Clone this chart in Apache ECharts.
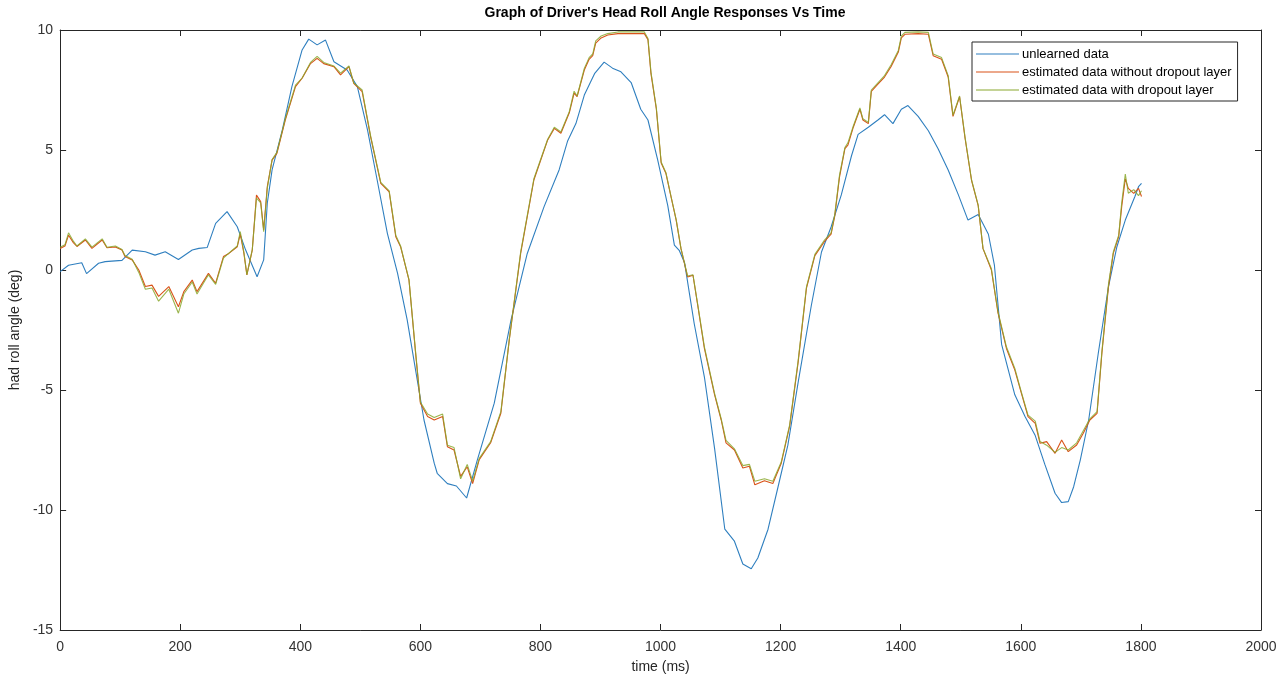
<!DOCTYPE html>
<html>
<head>
<meta charset="utf-8">
<script src="https://cdn.jsdelivr.net/npm/echarts@6/dist/echarts.min.js"></script>
<style>
  html, body { margin: 0; padding: 0; background: #fff; }
  #chart { width: 1287px; height: 682px; }
</style>
</head>
<body>
<div id="chart"></div>
<script>
const blueTime = [0, 14, 36, 44, 64, 75, 103, 120, 142, 158, 175, 197, 220, 231, 245, 259, 278, 295, 309, 328,
  339, 345, 353, 370, 386, 403, 414, 428, 442, 456, 478, 495, 512, 528, 545, 562, 578, 592, 606, 623,
  628, 645, 660, 677, 695, 723, 751, 778, 806, 831, 845, 859, 873, 890, 906, 920, 934, 951, 967, 979,
  995, 1012, 1023, 1031, 1040, 1056, 1073, 1090, 1107, 1123, 1137, 1151, 1162, 1179, 1196, 1212, 1229, 1251, 1268, 1284,
  1301, 1318, 1329, 1346, 1362, 1373, 1387, 1401, 1412, 1429, 1446, 1462, 1479, 1496, 1512, 1529, 1546, 1556, 1568, 1590,
  1607, 1624, 1640, 1657, 1668, 1679, 1688, 1699, 1713, 1729, 1746, 1760, 1774, 1782, 1790, 1796, 1801]
const blueRoll = [-0.07, 0.2, 0.3, -0.15, 0.28, 0.35, 0.4, 0.83, 0.76, 0.62, 0.76, 0.44, 0.83, 0.9, 0.94, 1.94, 2.43, 1.8, 0.83, -0.28,
  0.42, 2.78, 4.17, 5.83, 7.64, 9.17, 9.62, 9.38, 9.58, 8.68, 8.33, 7.64, 5.83, 3.75, 1.53, -0.14, -2.08, -4.17, -6.25, -8.05,
  -8.47, -8.9, -9.0, -9.5, -7.9, -5.55, -2.08, 0.69, 2.64, 4.17, 5.36, 6.1, 7.29, 8.18, 8.66, 8.41, 8.26, 7.81, 6.7, 6.25,
  4.61, 2.68, 1.04, 0.82, 0.3, -2.23, -4.46, -7.44, -10.8, -11.3, -12.25, -12.45, -12.0, -10.8, -9.0, -7.3, -4.7, -1.49, 0.75, 1.79,
  3.13, 4.76, 5.65, 5.95, 6.25, 6.47, 6.1, 6.7, 6.85, 6.4, 5.8, 5.06, 4.17, 3.13, 2.08, 2.31, 1.49, 0.2, -3.1, -5.2,
  -6.1, -6.9, -8.1, -9.3, -9.69, -9.65, -9.03, -7.92, -6.25, -3.47, -0.69, 0.97, 2.08, 2.57, 3.06, 3.47, 3.61]

// estimated series share one time base
const estTime = [0, 8, 14, 22, 28, 42, 53, 70, 78, 92, 103, 108, 120, 131, 142, 153, 164, 181, 197, 206,
  220, 228, 247, 259, 272, 281, 295, 300, 306, 311, 320, 327, 334, 339, 345, 353, 361, 375, 392, 403,
  417, 428, 439, 456, 467, 481, 489, 503, 517, 534, 548, 559, 567, 581, 592, 600, 612, 623, 637, 645,
  656, 667, 678, 687, 698, 717, 734, 748, 767, 789, 812, 823, 834, 848, 856, 861, 873, 881, 887, 892,
  901, 912, 929, 973, 979, 984, 993, 1001, 1009, 1018, 1026, 1034, 1045, 1054, 1062, 1073, 1090, 1101, 1109, 1123,
  1137, 1148, 1157, 1173, 1187, 1201, 1215, 1229, 1243, 1257, 1273, 1284, 1290, 1298, 1307, 1312, 1321, 1332, 1337, 1346,
  1351, 1362, 1373, 1384, 1396, 1401, 1407, 1429, 1446, 1454, 1468, 1479, 1487, 1498, 1507, 1518, 1529, 1537, 1551, 1562,
  1576, 1590, 1601, 1612, 1624, 1632, 1643, 1657, 1668, 1679, 1693, 1704, 1715, 1727, 1735, 1746, 1754, 1763, 1768, 1774,
  1779, 1788, 1796, 1801]
const noDropoutRoll = [0.9, 1.0, 1.45, 1.14, 0.98, 1.25, 0.9, 1.25, 0.93, 0.96, 0.83, 0.56, 0.42, 0.0, -0.69, -0.63, -1.1, -0.69, -1.53, -0.9,
  -0.42, -0.9, -0.14, -0.55, 0.56, 0.69, 0.97, 1.5, 0.7, -0.2, 0.83, 3.12, 2.85, 1.67, 3.47, 4.58, 4.86, 6.25, 7.64, 7.99,
  8.6, 8.82, 8.6, 8.47, 8.13, 8.47, 7.78, 7.43, 5.56, 3.61, 3.26, 1.39, 0.97, -0.42, -3.47, -5.55, -6.1, -6.25, -6.1, -7.36,
  -7.5, -8.6, -8.2, -8.9, -7.9, -7.2, -5.97, -2.92, 0.69, 3.75, 5.42, 5.9, 5.7, 6.55, 7.37, 7.22, 8.33, 8.78, 8.93, 9.45,
  9.67, 9.79, 9.85, 9.85, 9.6, 8.18, 6.7, 4.46, 4.02, 2.98, 2.08, 0.89, -0.29, -0.22, -1.49, -3.27, -5.2, -6.25, -7.2, -7.5,
  -8.25, -8.18, -8.95, -8.78, -8.9, -8.05, -6.5, -3.87, -0.75, 0.6, 1.19, 1.49, 2.23, 3.87, 5.06, 5.2, 5.95, 6.7, 6.25, 6.1,
  7.44, 7.74, 8.04, 8.48, 9.08, 9.67, 9.82, 9.85, 9.82, 8.93, 8.78, 8.04, 6.4, 7.22, 5.51, 3.72, 2.68, 0.89, 0.0, -1.79,
  -3.27, -4.17, -5.14, -6.11, -6.39, -7.22, -7.15, -7.64, -7.08, -7.57, -7.29, -6.8, -6.25, -5.97, -3.47, -0.69, 0.69, 1.39, 2.64, 3.8,
  3.4, 3.19, 3.4, 3.06]
const dropoutRoll = [0.95, 1.05, 1.55, 1.2, 1.0, 1.3, 0.95, 1.3, 0.95, 1.0, 0.85, 0.6, 0.45, -0.1, -0.8, -0.75, -1.3, -0.8, -1.8, -1.0,
  -0.5, -1.0, -0.2, -0.6, 0.5, 0.7, 1.0, 1.6, 0.75, -0.2, 0.85, 3.0, 2.8, 1.6, 3.4, 4.6, 4.9, 6.3, 7.7, 8.0,
  8.65, 8.9, 8.65, 8.5, 8.2, 8.5, 7.8, 7.5, 5.6, 3.65, 3.3, 1.45, 1.0, -0.4, -3.4, -5.5, -6.0, -6.15, -6.0, -7.3,
  -7.4, -8.7, -8.1, -8.8, -7.85, -7.15, -5.9, -2.9, 0.75, 3.8, 5.45, 5.95, 5.75, 6.6, 7.45, 7.25, 8.4, 8.85, 9.0, 9.55,
  9.75, 9.85, 9.92, 9.92, 9.65, 8.25, 6.75, 4.5, 4.05, 3.0, 2.1, 0.9, -0.25, -0.2, -1.45, -3.2, -5.15, -6.2, -7.1, -7.45,
  -8.15, -8.1, -8.8, -8.7, -8.8, -8.0, -6.45, -3.8, -0.7, 0.65, 1.25, 1.55, 2.3, 3.95, 5.1, 5.3, 6.0, 6.75, 6.3, 6.15,
  7.5, 7.8, 8.1, 8.55, 9.15, 9.75, 9.9, 9.92, 9.9, 9.0, 8.85, 8.1, 6.45, 7.25, 5.55, 3.75, 2.7, 0.9, 0.05, -1.75,
  -3.2, -4.1, -5.1, -6.05, -6.3, -7.15, -7.3, -7.6, -7.4, -7.5, -7.2, -6.7, -6.2, -5.9, -3.4, -0.6, 0.75, 1.45, 2.8, 4.0,
  3.2, 3.35, 3.1, 3.3]

const xTicks = { min: 0, max: 2000, interval: 200 }
const yTicks = { min: -15, max: 10, interval: 5 }

const pairs = (xs, ys) => xs.map((x, i) => [x, ys[i]])

const font = 'Liberation Sans, Arial, Helvetica, sans-serif'
const ink = '#262626'
// thin line legend key (the extra move-tos keep the box 43x14 so the bar stays 1px)
const lineKey = 'path://M0,0M43,14M0,6.5L43,6.5L43,7.6L0,7.6Z'

const chart = echarts.init(document.getElementById('chart'), null, { renderer: 'canvas' })

const boxAxis = {
  axisLine: { show: true, onZero: false, lineStyle: { color: ink, width: 1 } },
  axisTick: { show: true, inside: true, length: 6, lineStyle: { color: ink } },
  splitLine: { show: false }
}

const option = {
  backgroundColor: '#fff',
  animation: false,
  title: {
    text: "Graph of Driver's Head Roll Angle Responses Vs Time",
    left: 660,
    top: 1,
    textAlign: 'center',
    textStyle: { fontFamily: font, fontSize: 14, fontWeight: 'bold', color: '#000' }
  },
  legend: {
    orient: 'vertical',
    left: 972,
    top: 42,
    padding: [5, 6, 4, 4],
    itemWidth: 43,
    itemHeight: 14,
    itemGap: 4,
    icon: lineKey,
    backgroundColor: '#fff',
    borderColor: ink,
    borderWidth: 1,
    borderRadius: 0,
    textStyle: { fontFamily: font, fontSize: 13, color: '#000', padding: [0, 0, 0, -2] },
    data: ['unlearned data', 'estimated data without dropout layer', 'estimated data with dropout layer']
  },
  grid: { left: 60, right: 26, top: 30, bottom: 52, containLabel: false },
  xAxis: [
    {
      type: 'value', ...xTicks, position: 'bottom', ...boxAxis,
      name: 'time (ms)', nameLocation: 'middle', nameGap: 30,
      nameTextStyle: { fontFamily: font, fontSize: 14, color: ink },
      axisLabel: { margin: 10, fontFamily: font, fontSize: 14, color: '#333', formatter: v => String(v) }
    },
    { type: 'value', ...xTicks, position: 'top', ...boxAxis, axisLabel: { show: false } }
  ],
  yAxis: [
    {
      type: 'value', ...yTicks, position: 'left', ...boxAxis,
      name: 'had roll angle (deg)', nameLocation: 'middle', nameGap: 33, nameRotate: 90,
      nameTextStyle: { fontFamily: font, fontSize: 14, color: ink },
      axisLabel: { margin: 7, fontFamily: font, fontSize: 14, color: '#333', formatter: v => String(v) }
    },
    { type: 'value', ...yTicks, position: 'right', ...boxAxis, axisLabel: { show: false } }
  ],
  series: [
    {
      name: 'unlearned data', type: 'line', data: pairs(blueTime, blueRoll),
      symbol: 'none', smooth: false,
      lineStyle: { width: 1.1, color: '#2f7fbf' }, itemStyle: { color: '#2f7fbf' }
    },
    {
      name: 'estimated data without dropout layer', type: 'line', data: pairs(estTime, noDropoutRoll),
      symbol: 'none',
      lineStyle: { width: 1.1, color: '#D95319' }, itemStyle: { color: '#D95319' }
    },
    {
      name: 'estimated data with dropout layer', type: 'line', data: pairs(estTime, dropoutRoll),
      symbol: 'none',
      lineStyle: { width: 1.1, color: '#8aa82e', opacity: 0.85 }, itemStyle: { color: '#8aa82e' }
    }
  ]
}

chart.setOption(option)
</script>
</body>
</html>
